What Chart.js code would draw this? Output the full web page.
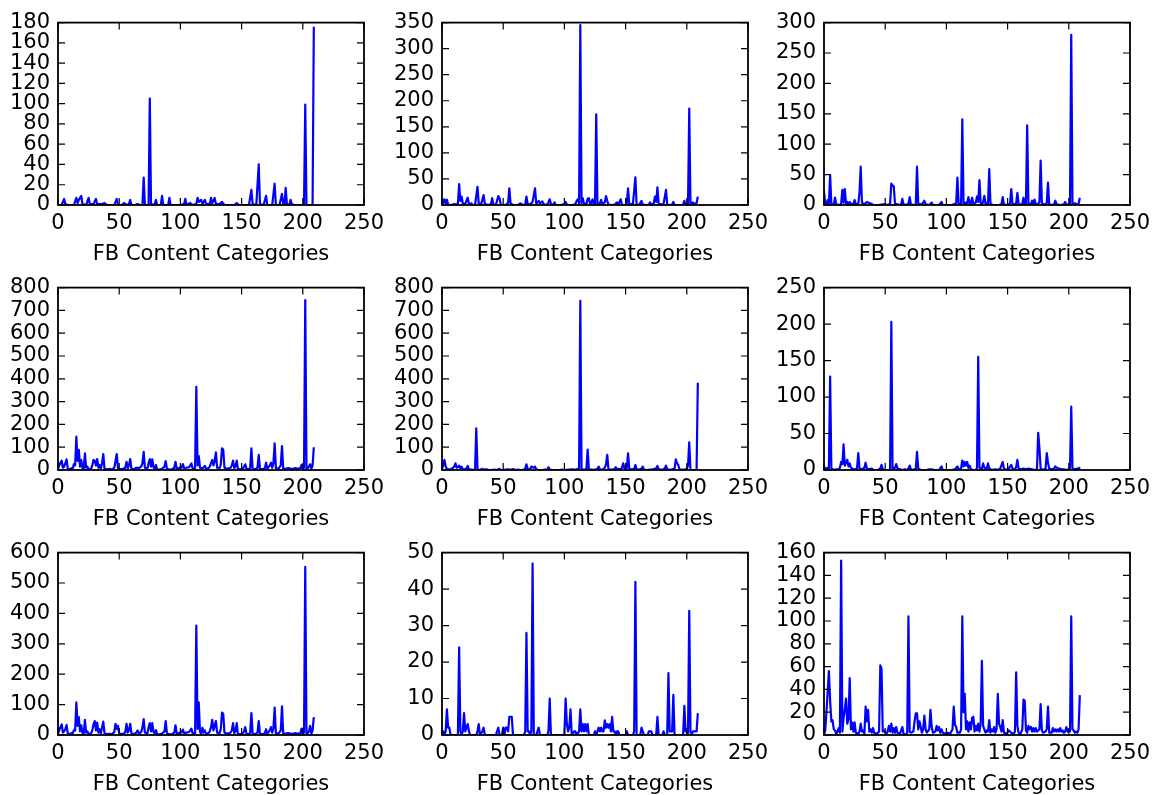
<!DOCTYPE html>
<html>
<head>
<meta charset="utf-8">
<script src="https://cdn.jsdelivr.net/npm/chart.js@4.4.1/dist/chart.umd.min.js"></script>
<style>
  html, body { margin: 0; padding: 0; background: #fff; overflow: hidden; }
  #figure { position: relative; width: 1152px; height: 795px; overflow: hidden; }
  #figure canvas { position: absolute; }
</style>
</head>
<body>
<div id="figure"></div>
<script>
// x axis is shared by every panel
const xTicks = [0, 50, 100, 150, 200, 250];
const xLabel = "FB Content Categories";

// y axis range per panel (row by row)
const yMaxes = [180, 350, 300, 800, 800, 250, 600, 50, 160];
const ySteps = [20, 50, 50, 100, 100, 50, 100, 10, 20];

// [category index, value] vertices
const panel1 = [[0,0],[3,0],[5,6],[6,1],[8,0],[13,0],[15,7],[16,2],[17,5],[19,9],[20,1],[23,0],[25,7],[26,1],[29,1],[31,6],[32,1],[36,1],[38,2],[40,0],[46,0],[48,6],[49,0],[52,0],[54,2],[56,0],[58,1],[59,5],[60,0],[63,0],[65,1],[67,0],[69,0],[70,27],[71,0],[74,0],[75,105],[76,0],[79,1],[80,5],[81,0],[84,0],[85,9],[86,0],[90,0],[91,7],[92,0],[100,0],[103,1],[104,6],[105,0],[108,2],[110,0],[113,1],[114,7],[115,3],[116,4],[117,5],[118,1],[120,5],[121,1],[124,1],[125,7],[126,2],[127,4],[128,7],[129,1],[132,1],[134,3],[136,0],[144,0],[146,2],[148,0],[156,0],[158,15],[159,1],[162,0],[164,40],[165,1],[168,0],[170,9],[171,0],[175,0],[177,21],[178,0],[181,0],[183,11],[184,1],[185,0],[186,17],[187,1],[189,0],[190,5],[191,1],[193,0],[200,0],[201,1],[202,99],[203,0],[207,0],[208,1],[209,176]];

const panel2 = [[0,12],[1,4],[2,11],[3,3],[4,10],[5,1],[8,0],[10,2],[12,1],[13,3],[14,40],[15,8],[16,16],[17,3],[19,2],[21,14],[22,2],[24,3],[25,0],[27,0],[29,35],[30,3],[32,2],[34,19],[35,2],[38,0],[40,2],[41,13],[42,1],[44,0],[46,17],[47,13],[48,1],[52,0],[54,4],[55,32],[56,3],[58,0],[62,0],[64,3],[66,0],[68,1],[69,16],[70,2],[72,1],[74,6],[76,32],[77,2],[79,8],[80,3],[82,7],[83,2],[86,0],[88,11],[89,2],[91,0],[92,5],[93,0],[97,0],[100,2],[101,6],[102,1],[104,0],[107,0],[109,2],[110,8],[111,11],[112,3],[113,345],[114,4],[115,13],[116,3],[118,2],[119,12],[120,13],[121,2],[122,4],[123,11],[124,2],[125,1],[126,174],[127,2],[129,3],[130,10],[131,2],[133,5],[134,17],[135,8],[136,1],[139,0],[141,1],[143,5],[144,0],[146,11],[147,0],[150,0],[151,4],[152,32],[153,1],[156,2],[158,53],[159,1],[161,0],[163,8],[164,1],[167,0],[169,1],[170,5],[171,0],[173,3],[174,16],[175,6],[176,34],[177,2],[180,1],[181,2],[183,29],[184,1],[186,0],[188,1],[189,6],[190,0],[196,0],[197,1],[198,8],[199,1],[201,0],[202,185],[203,1],[205,5],[206,2],[208,4],[209,16]];

const panel3 = [[0,23],[1,2],[2,1],[3,8],[4,1],[5,49],[6,2],[8,1],[9,12],[10,1],[13,0],[14,2],[15,25],[16,4],[17,26],[18,2],[19,5],[20,1],[21,5],[22,2],[24,1],[25,8],[26,1],[28,2],[29,20],[30,63],[31,4],[33,1],[35,5],[36,4],[37,3],[39,2],[40,0],[45,0],[48,1],[50,1],[52,0],[54,2],[55,35],[56,32],[57,31],[58,2],[60,1],[62,0],[63,1],[64,10],[65,1],[67,0],[69,2],[70,13],[71,1],[73,0],[75,1],[76,63],[77,2],[80,1],[82,7],[83,1],[86,0],[88,4],[89,0],[94,0],[96,5],[97,0],[104,0],[106,1],[108,3],[109,45],[110,2],[112,2],[113,141],[114,3],[116,4],[117,3],[118,13],[119,2],[120,3],[121,12],[122,2],[124,4],[125,14],[126,5],[127,41],[128,3],[129,1],[130,5],[131,15],[132,2],[134,3],[135,59],[136,2],[138,0],[143,0],[145,1],[146,13],[147,1],[149,0],[151,1],[152,3],[153,26],[154,2],[156,1],[157,3],[158,20],[159,2],[161,0],[162,2],[163,12],[164,1],[165,3],[166,131],[167,2],[169,1],[170,7],[171,2],[172,9],[173,1],[175,2],[176,5],[177,73],[178,3],[180,0],[182,3],[183,37],[184,1],[186,0],[188,1],[189,7],[190,1],[193,0],[196,1],[197,5],[198,1],[200,0],[201,3],[202,280],[203,1],[205,3],[207,1],[208,2],[209,12]];

const panel4 = [[0,5],[1,20],[2,32],[3,41],[4,10],[5,15],[6,30],[7,47],[8,5],[10,3],[11,8],[12,5],[13,26],[14,20],[15,146],[16,40],[17,88],[18,15],[19,44],[20,8],[21,5],[22,73],[23,10],[24,15],[25,3],[27,5],[28,20],[29,44],[30,40],[31,20],[32,48],[33,10],[34,22],[35,5],[36,30],[37,70],[38,5],[40,3],[42,5],[44,2],[46,10],[47,40],[48,70],[49,8],[51,3],[53,5],[55,10],[56,36],[57,8],[58,20],[59,48],[60,5],[62,3],[64,10],[66,8],[68,15],[69,30],[70,80],[71,10],[73,5],[74,30],[75,48],[76,15],[77,47],[78,12],[79,5],[80,22],[81,3],[83,2],[85,5],[87,15],[88,39],[89,5],[91,2],[93,3],[95,10],[96,36],[97,5],[99,8],[100,12],[101,10],[102,26],[103,8],[105,10],[107,12],[108,20],[109,29],[110,5],[112,8],[113,365],[114,20],[115,61],[116,10],[118,8],[119,12],[120,18],[121,5],[123,8],[124,15],[125,30],[126,44],[127,20],[128,40],[129,77],[130,10],[132,8],[133,25],[134,95],[135,90],[136,10],[138,5],[140,8],[141,10],[142,20],[143,41],[144,8],[145,15],[146,41],[147,5],[149,3],[151,5],[152,15],[153,25],[154,5],[156,3],[157,10],[158,95],[159,5],[161,3],[163,10],[164,66],[165,5],[167,3],[169,8],[170,32],[171,5],[173,20],[174,32],[175,10],[176,30],[177,117],[178,8],[180,5],[182,20],[183,105],[184,5],[186,5],[188,8],[190,6],[192,5],[194,8],[196,5],[198,8],[199,22],[200,5],[201,10],[202,745],[203,5],[204,8],[205,15],[206,25],[207,5],[208,20],[209,100]];

const panel5 = [[0,5],[1,20],[2,44],[3,15],[4,5],[6,2],[8,5],[10,15],[11,29],[12,10],[13,12],[14,19],[15,8],[16,15],[17,3],[19,3],[20,8],[21,18],[22,3],[24,2],[26,0],[27,3],[28,183],[29,2],[31,0],[33,5],[34,2],[36,3],[38,1],[40,0],[43,2],[45,0],[47,5],[48,1],[50,0],[54,3],[56,1],[58,4],[60,0],[62,2],[64,0],[66,0],[68,5],[69,25],[70,4],[72,2],[73,15],[74,12],[75,10],[76,15],[77,3],[79,0],[82,0],[84,2],[86,3],[87,12],[88,2],[90,0],[96,0],[98,2],[100,0],[104,2],[106,3],[108,2],[110,3],[111,5],[112,8],[113,742],[114,3],[116,2],[117,3],[118,5],[119,90],[120,3],[122,2],[124,1],[126,3],[127,5],[128,15],[129,3],[131,2],[132,5],[133,10],[134,25],[135,66],[136,3],[138,2],[140,3],[141,5],[142,12],[143,3],[145,5],[146,2],[147,10],[148,29],[149,8],[150,3],[151,10],[152,73],[153,5],[155,2],[157,5],[158,22],[159,3],[161,2],[163,5],[164,15],[165,2],[167,0],[170,2],[172,3],[174,5],[175,8],[176,18],[177,3],[179,2],[181,3],[182,8],[183,19],[184,3],[186,2],[188,3],[190,5],[191,47],[192,30],[193,22],[194,3],[196,2],[198,1],[200,5],[201,20],[202,121],[203,0],[205,0],[207,0],[208,0],[209,383]];

const panel6 = [[0,0],[1,3],[2,1],[3,3],[4,2],[5,128],[6,2],[8,0],[10,1],[12,1],[13,3],[14,11],[15,8],[16,35],[17,6],[18,10],[19,14],[20,5],[21,9],[22,3],[24,1],[26,1],[27,3],[28,23],[29,2],[31,1],[33,3],[34,10],[35,2],[37,1],[39,2],[40,0],[44,0],[46,2],[47,7],[48,1],[50,0],[53,0],[54,1],[55,203],[56,2],[58,3],[59,8],[60,2],[62,1],[64,0],[66,1],[68,0],[69,2],[70,6],[71,1],[73,0],[75,2],[76,25],[77,2],[79,0],[84,0],[86,1],[88,1],[90,0],[94,0],[95,2],[96,5],[97,0],[104,0],[107,1],[109,5],[110,1],[112,2],[113,13],[114,5],[115,11],[116,6],[117,11],[118,3],[119,6],[120,1],[122,0],[124,0],[125,3],[126,155],[127,3],[129,2],[130,9],[131,3],[133,2],[134,9],[135,2],[137,0],[140,1],[142,0],[144,2],[146,11],[147,2],[149,0],[151,2],[152,5],[153,7],[154,2],[156,1],[157,4],[158,14],[159,2],[161,1],[163,2],[165,1],[167,2],[170,1],[172,0],[174,1],[175,51],[176,30],[177,2],[179,0],[181,2],[182,23],[183,10],[184,2],[186,1],[188,2],[189,5],[190,3],[192,2],[194,1],[196,1],[198,0],[200,1],[201,3],[202,87],[203,2],[205,1],[207,2],[208,1],[209,4]];

const panel7 = [[0,5],[1,15],[2,26],[3,35],[4,8],[5,12],[6,20],[7,33],[8,5],[10,3],[11,6],[12,5],[13,16],[14,15],[15,107],[16,30],[17,59],[18,12],[19,32],[20,6],[21,5],[22,50],[23,8],[24,12],[25,3],[27,5],[28,15],[29,35],[30,46],[31,15],[32,41],[33,8],[34,19],[35,5],[36,25],[37,44],[38,5],[40,3],[42,4],[44,2],[46,10],[47,37],[48,20],[49,30],[50,5],[52,3],[54,5],[55,10],[56,37],[57,8],[58,15],[59,37],[60,5],[62,3],[64,8],[65,15],[66,5],[68,10],[69,25],[70,52],[71,8],[73,5],[74,25],[75,39],[76,12],[77,39],[78,10],[79,5],[80,16],[81,3],[83,2],[85,5],[87,12],[88,46],[89,5],[91,2],[93,3],[95,8],[96,32],[97,5],[99,6],[100,10],[101,8],[102,18],[103,6],[105,8],[107,10],[108,15],[109,21],[110,5],[112,6],[113,360],[114,20],[115,107],[116,10],[117,5],[118,24],[119,8],[120,15],[121,4],[123,6],[124,12],[125,25],[126,50],[127,15],[128,30],[129,46],[130,8],[132,6],[133,20],[134,74],[135,70],[136,8],[138,4],[140,6],[141,8],[142,15],[143,39],[144,6],[145,12],[146,39],[147,4],[149,3],[151,4],[152,12],[153,26],[154,4],[156,3],[157,8],[158,72],[159,4],[161,3],[163,8],[164,46],[165,4],[167,3],[169,6],[170,19],[171,4],[173,15],[174,26],[175,8],[176,22],[177,90],[178,6],[180,4],[182,15],[183,94],[184,4],[186,5],[188,6],[190,5],[192,4],[194,6],[196,4],[198,6],[199,21],[200,4],[201,8],[202,553],[203,4],[204,6],[205,12],[206,30],[207,4],[208,15],[209,59]];

const panel8 = [[0,0],[1,1],[2,0],[3,1],[4,7],[5,2],[6,2],[7,0],[13,0],[14,24],[15,1],[16,0],[17,1],[18,6],[19,1],[20,2],[21,3],[22,1],[23,0],[28,0],[29,1],[30,3],[31,0],[33,1],[34,2],[35,0],[44,0],[45,1],[46,2],[47,0],[49,0],[50,2],[51,0],[52,2],[53,2],[54,1],[55,5],[56,5],[57,5],[58,0],[67,0],[68,1],[69,28],[70,1],[71,1],[72,0],[73,1],[74,47],[75,0],[77,0],[78,1],[79,2],[80,0],[86,0],[87,1],[88,10],[89,0],[100,0],[101,10],[102,3],[103,1],[104,2],[105,7],[106,0],[108,1],[109,1],[110,0],[112,1],[113,7],[114,1],[115,3],[116,1],[117,3],[118,1],[119,3],[120,0],[124,0],[125,1],[126,0],[127,1],[128,2],[129,1],[130,2],[131,1],[132,1],[133,4],[134,2],[135,3],[136,2],[137,3],[138,1],[139,5],[140,1],[141,1],[142,0],[143,1],[144,1],[145,0],[150,0],[151,1],[152,0],[156,0],[157,1],[158,42],[159,0],[162,0],[163,2],[164,1],[165,0],[168,0],[169,1],[170,1],[171,1],[172,0],[175,0],[176,5],[177,0],[180,0],[181,1],[182,0],[184,0],[185,17],[186,1],[187,1],[188,1],[189,11],[190,0],[197,0],[198,8],[199,1],[200,1],[201,0],[202,34],[203,1],[204,0],[205,1],[206,1],[207,1],[208,1],[209,6]];

const panel9 = [[0,0],[1,4],[2,20],[4,56],[5,30],[6,12],[7,13],[8,5],[9,4],[10,1],[11,3],[12,6],[13,2],[14,153],[15,3],[16,15],[17,23],[18,32],[19,10],[20,14],[21,50],[22,5],[23,11],[24,3],[25,11],[26,2],[28,1],[29,3],[30,10],[31,3],[32,4],[33,1],[34,25],[35,12],[36,22],[37,3],[38,5],[39,2],[40,6],[41,2],[43,1],[45,3],[46,61],[47,58],[48,3],[49,4],[51,1],[52,3],[53,8],[54,3],[55,10],[56,2],[57,6],[58,2],[59,7],[60,2],[62,1],[64,7],[65,1],[67,0],[68,2],[69,104],[70,3],[71,2],[73,3],[74,12],[75,19],[76,19],[77,5],[78,12],[79,7],[80,2],[81,5],[82,17],[83,5],[84,2],[86,5],[87,22],[88,7],[89,2],[91,3],[92,8],[93,4],[94,7],[95,2],[96,5],[97,2],[99,1],[101,2],[103,1],[105,5],[106,25],[107,9],[108,7],[109,2],[111,2],[112,5],[113,104],[114,20],[115,36],[116,5],[117,12],[118,3],[119,11],[120,5],[121,15],[122,16],[123,3],[124,8],[125,4],[126,10],[127,3],[128,10],[129,65],[130,8],[131,5],[132,2],[133,4],[134,3],[135,13],[136,2],[137,5],[138,3],[139,7],[140,2],[141,5],[142,36],[143,10],[144,7],[145,3],[146,13],[147,2],[149,1],[151,4],[153,2],[155,1],[156,3],[157,55],[158,8],[159,2],[160,1],[161,2],[162,5],[163,31],[164,30],[165,4],[166,2],[167,8],[168,5],[169,7],[170,3],[171,6],[172,3],[173,6],[174,3],[175,4],[176,5],[177,27],[178,4],[179,2],[181,3],[182,5],[183,25],[184,2],[186,2],[187,6],[188,3],[189,5],[190,3],[191,5],[192,3],[193,6],[194,3],[195,4],[196,2],[197,3],[198,7],[199,3],[200,5],[201,3],[202,104],[203,5],[204,4],[205,2],[206,3],[207,2],[208,5],[209,35]];

const panels = [panel1, panel2, panel3, panel4, panel5, panel6, panel7, panel8, panel9];

// layout of the 3x3 grid (plot area corners, px)
const colLefts = [58, 442, 824];
const rowTops = [22, 287, 552];
const plotWidth = 306;
const plotHeight = 183;
const leftRoom = 70;
const topRoom = 20;
const rightRoom = 30;
const bottomRoom = 77;
const tickLength = 7;

Chart.defaults.font.family = "'DejaVu Sans', sans-serif";
Chart.defaults.font.size = 21;
Chart.defaults.color = "#000";

// matplotlib-style box with inward ticks on all four sides
const frameAndTicks = {
  id: "frameAndTicks",
  afterDraw(chart) {
    const { ctx, chartArea: area, scales } = chart;
    ctx.save();
    ctx.strokeStyle = "#000";
    ctx.lineWidth = 1.2;
    ctx.beginPath();
    scales.x.ticks.forEach((tick) => {
      const px = scales.x.getPixelForValue(tick.value);
      ctx.moveTo(px, area.top);
      ctx.lineTo(px, area.top + tickLength);
      ctx.moveTo(px, area.bottom);
      ctx.lineTo(px, area.bottom - tickLength);
    });
    scales.y.ticks.forEach((tick) => {
      const py = scales.y.getPixelForValue(tick.value);
      ctx.moveTo(area.left, py);
      ctx.lineTo(area.left + tickLength, py);
      ctx.moveTo(area.right, py);
      ctx.lineTo(area.right - tickLength, py);
    });
    ctx.stroke();
    ctx.lineWidth = 1.8;
    ctx.strokeRect(area.left, area.top, area.right - area.left, area.bottom - area.top);
    ctx.restore();
  },
};

function renderPanel(index) {
  const figure = document.getElementById("figure");
  const canvas = document.createElement("canvas");
  const col = index % 3;
  const row = Math.floor(index / 3);
  const width = leftRoom + plotWidth + rightRoom;
  const height = topRoom + plotHeight + bottomRoom;

  canvas.width = width;
  canvas.height = height;
  canvas.style.width = width + "px";
  canvas.style.height = height + "px";
  canvas.style.left = colLefts[col] - leftRoom + "px";
  canvas.style.top = rowTops[row] - topRoom + "px";
  figure.appendChild(canvas);

  new Chart(canvas, {
    type: "line",
    data: {
      datasets: [
        {
          data: panels[index].map(([x, y]) => ({ x, y })),
          borderColor: "#0000ff",
          borderWidth: 2.2,
          borderJoinStyle: "round",
          pointRadius: 0,
          tension: 0,
          fill: false,
        },
      ],
    },
    options: {
      responsive: false,
      animation: false,
      devicePixelRatio: 1,
      layout: {
        padding: { top: topRoom, right: rightRoom, left: 0, bottom: 0 },
      },
      plugins: {
        legend: { display: false },
        tooltip: { enabled: false },
      },
      scales: {
        x: {
          type: "linear",
          min: 0,
          max: 250,
          afterBuildTicks: (scale) => {
            scale.ticks = xTicks.map((value) => ({ value }));
          },
          afterFit: (scale) => {
            scale.height = bottomRoom;
          },
          ticks: { autoSkip: false, maxRotation: 0, padding: 6 },
          grid: { display: false, drawTicks: false },
          border: { display: false },
          title: {
            display: true,
            text: xLabel,
            padding: { top: 0, bottom: 15 },
          },
        },
        y: {
          type: "linear",
          min: 0,
          max: yMaxes[index],
          afterFit: (scale) => {
            scale.width = leftRoom;
          },
          ticks: { stepSize: ySteps[index], autoSkip: false, padding: 8 },
          grid: { display: false, drawTicks: false },
          border: { display: false },
        },
      },
    },
    plugins: [frameAndTicks],
  });
}

panels.forEach((_, index) => renderPanel(index));
</script>
</body>
</html>
